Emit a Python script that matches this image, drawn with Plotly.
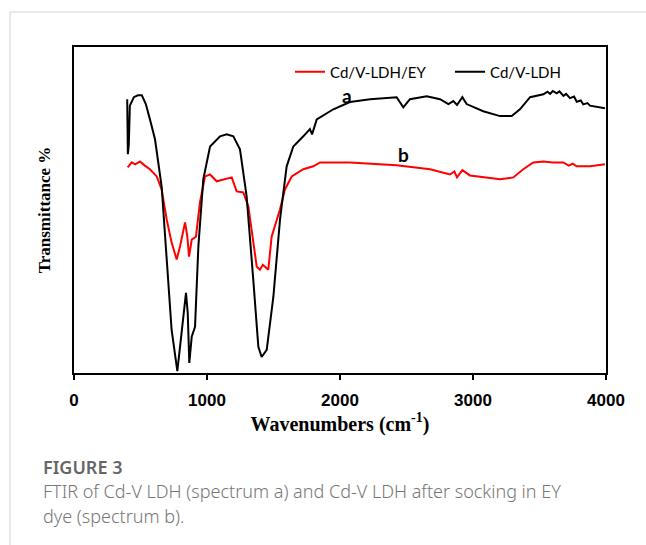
import plotly.graph_objects as go

# Spectrum a: Cd/V-LDH (black)
wn_a = [400, 405, 412, 420, 450, 480, 510, 540, 571, 609, 659, 707, 734, 777, 810, 842, 855, 867, 885, 910,
        935, 972, 1023, 1098, 1148, 1198, 1248, 1298, 1348, 1386, 1411, 1449, 1499, 1549, 1599, 1649, 1724,
        1774, 1790, 1825, 1950, 2075, 2226, 2426, 2476, 2526, 2652, 2752, 2815, 2852, 2880, 2920, 2952,
        3077, 3203, 3291, 3353, 3429, 3529, 3560, 3580, 3600, 3629, 3650, 3680, 3700, 3729, 3760, 3780,
        3810, 3829, 3860, 3880, 3930, 3992]
t_a = [84.0, 67.1, 70.0, 82.0, 84.6, 85.2, 85.2, 82.5, 77.8, 71.7, 57.2, 28.6, 13.2, 0.6, 12.3, 24.6, 18.5, 3.1, 11.1, 14.2,
       38.8, 59.4, 69.5, 72.6, 73.2, 72.6, 68.6, 54.2, 28.6, 8.0, 4.9, 7.1, 23.4, 47.1, 63.4, 69.5, 72.6,
       74.8, 73.2, 77.8, 80.9, 83.1, 84.0, 84.6, 81.5, 84.0, 84.9, 84.0, 82.5, 83.4, 82.2, 84.6, 82.5,
       80.3, 78.8, 78.8, 80.9, 84.6, 85.5, 86.3, 85.6, 86.5, 85.8, 86.4, 85.0, 85.6, 84.3, 84.8, 83.2,
       83.6, 82.4, 82.8, 82.0, 81.6, 81.2]

# Spectrum b: Cd/V-LDH/EY (red)
wn_b = [404, 420, 434, 460, 496, 530, 571, 622, 659, 697, 734, 772, 797, 835, 852, 865, 885, 917, 947, 985,
        1023, 1073, 1135, 1186, 1223, 1273, 1311, 1348, 1374, 1398, 1420, 1436, 1461, 1486, 1524, 1549,
        1586, 1637, 1724, 1799, 1850, 2075, 2426, 2677, 2827, 2860, 2880, 2920, 2977, 3103, 3203, 3303,
        3378, 3453, 3529, 3600, 3679, 3720, 3750, 3779, 3880, 3992]
t_b = [63.1, 64.0, 64.6, 64.0, 64.9, 63.7, 62.5, 60.3, 56.3, 47.1, 40.0, 34.8, 38.8, 46.2, 41.8, 35.7, 40.9, 41.8, 52.3, 60.3,
       60.9, 58.8, 59.4, 60.0, 55.7, 55.4, 51.1, 40.9, 32.6, 31.7, 33.2, 32.6, 31.7, 41.8, 47.1, 50.2,
       56.3, 60.3, 62.5, 63.4, 64.6, 64.6, 63.7, 62.5, 60.9, 61.8, 60.0, 62.2, 60.6, 60.0, 59.4, 60.0,
       62.5, 64.6, 64.9, 64.6, 64.6, 63.6, 64.2, 63.4, 63.4, 64.0]

x_ticks = [0, 1000, 2000, 3000, 4000]

fig = go.Figure()
fig.add_trace(go.Scatter(x=wn_b, y=t_b, mode="lines", name="Cd/V-LDH/EY",
                         line=dict(color="#ff0000", width=2)))
fig.add_trace(go.Scatter(x=wn_a, y=t_a, mode="lines", name="Cd/V-LDH",
                         line=dict(color="#000000", width=2)))

fig.update_layout(
    width=646, height=545,
    margin=dict(l=74, r=40, t=47, b=172),
    paper_bgcolor="white", plot_bgcolor="white",
    showlegend=True,
    legend=dict(orientation="h", x=(290 - 74) / 532, y=(373 - 72) / 326, xanchor="left", yanchor="middle",
                font=dict(family="Lato", size=15, color="#000"),
                bgcolor="rgba(0,0,0,0)", entrywidth=115, entrywidthmode="pixels", tracegroupgap=0),
    xaxis=dict(range=[0, 4000], tickvals=x_ticks, ticks="outside", ticklen=5, tickwidth=1.5,
               tickcolor="#000", showline=True, linecolor="#000", linewidth=2, mirror=True,
               showgrid=False, zeroline=False, ticklabelstandoff=6,
               tickfont=dict(family="Liberation Sans", size=17, color="#000", weight="bold"),
               title=dict(text="Wavenumbers (cm<sup>-1</sup>)", standoff=5,
                          font=dict(family="Liberation Serif", size=20, color="#000", weight="bold"))),
    yaxis=dict(range=[0, 100], showticklabels=False, ticks="", showline=True, linecolor="#000",
               linewidth=2, mirror=True, showgrid=False, zeroline=False,
               title=dict(text="Transmittance %", standoff=17,
                          font=dict(family="Liberation Serif", size=17, color="#000", weight="bold"))),
)

# labels a and b
fig.add_annotation(x=2052, y=85.2, text="a", showarrow=False, xanchor="center", yanchor="middle",
                   font=dict(family="Lato", size=19, color="#000", weight="bold"))
fig.add_annotation(x=2474, y=67.1, text="b", showarrow=False, xanchor="center", yanchor="middle",
                   font=dict(family="Lato", size=19, color="#000", weight="bold"))

# figure card borders
fig.add_shape(type="line", xref="paper", yref="paper", x0=-0.1203, x1=1.1, y0=(373 - 12) / 326,
              y1=(373 - 12) / 326, line=dict(color="#d4d4d4", width=1))
fig.add_shape(type="line", xref="paper", yref="paper", x0=-0.1203, x1=-0.1203, y0=(373 - 12) / 326,
              y1=-0.54, line=dict(color="#d4d4d4", width=1))

# caption
fig.add_annotation(xref="paper", yref="paper", x=(41 - 74) / 532, y=(373 - 467) / 326,
                   text="FIGURE 3", showarrow=False, xanchor="left", yanchor="middle",
                   font=dict(family="Noto Sans", size=18, color="#666666", weight=600))
fig.add_annotation(xref="paper", yref="paper", x=(41 - 74) / 532, y=(373 - 491) / 326,
                   text="FTIR of Cd-V LDH (spectrum a) and Cd-V LDH after socking in EY",
                   showarrow=False, xanchor="left", yanchor="middle", align="left",
                   font=dict(family="Noto Sans", size=18, color="#777777", weight=300))
fig.add_annotation(xref="paper", yref="paper", x=(41 - 74) / 532, y=(373 - 516) / 326,
                   text="dye (spectrum b).",
                   showarrow=False, xanchor="left", yanchor="middle", align="left",
                   font=dict(family="Noto Sans", size=18, color="#777777", weight=300))

fig.write_html("out.html")
